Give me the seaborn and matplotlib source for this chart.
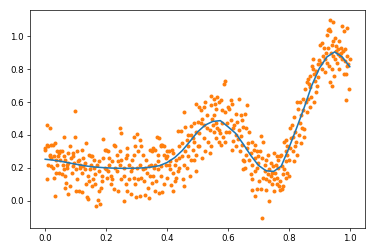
import matplotlib
matplotlib.use("Agg")
import matplotlib.pyplot as plt
import seaborn as sns
import numpy as np

# smooth fitted curve
line_x = [0.000, 0.025, 0.050, 0.075, 0.100, 0.125, 0.150, 0.175, 0.200, 0.225,
          0.250, 0.275, 0.300, 0.325, 0.350, 0.375, 0.400, 0.425, 0.450, 0.475,
          0.500, 0.525, 0.550, 0.575, 0.600, 0.625, 0.650, 0.675, 0.700, 0.725,
          0.750, 0.775, 0.800, 0.825, 0.850, 0.875, 0.900, 0.925, 0.950, 0.975, 1.000]
line_y = [0.252, 0.247, 0.240, 0.231, 0.222, 0.214, 0.207, 0.203, 0.200, 0.198,
          0.197, 0.197, 0.198, 0.200, 0.205, 0.213, 0.232, 0.262, 0.305, 0.360,
          0.418, 0.460, 0.482, 0.487, 0.450, 0.410, 0.345, 0.275, 0.215, 0.182,
          0.178, 0.210, 0.320, 0.440, 0.565, 0.700, 0.805, 0.875, 0.905, 0.875, 0.815]

pts_00 = [(0.005,0.46),(0.016,0.445),(0.0,0.32),(0.005,0.34),(0.01,0.33),(0.02,0.34),(0.025,0.34),(0.0,0.31),
          (0.015,0.27),(0.02,0.26),(0.03,0.27),(0.01,0.22),(0.02,0.21),(0.005,0.13),(0.033,0.026),(0.033,0.35),
          (0.04,0.30),(0.045,0.29),(0.035,0.25),(0.04,0.22),(0.045,0.17),(0.03,0.14),(0.025,0.20),(0.042,0.27),
          (0.05,0.30),(0.015,0.28),(0.035,0.17),(0.048,0.25),
          (0.055,0.30),(0.06,0.385),(0.06,0.27),(0.065,0.25),(0.07,0.22),(0.075,0.23),(0.07,0.20),(0.06,0.19),
          (0.055,0.16),(0.065,0.15),(0.065,0.08),(0.082,0.088),(0.076,0.04),(0.1,0.06),(0.09,0.27),(0.085,0.26),
          (0.097,0.548),(0.097,0.385),(0.08,0.33),(0.075,0.29),(0.09,0.21),(0.1,0.19),(0.095,0.23),(0.058,0.22),
          (0.068,0.11),(0.088,0.17),(0.092,0.29)]
pts_10 = [(0.105,0.30),(0.11,0.25),(0.115,0.22),(0.12,0.31),(0.125,0.26),(0.13,0.23),(0.135,0.35),(0.11,0.06),
          (0.122,0.055),(0.14,0.01),(0.145,0.28),(0.15,0.27),(0.13,0.19),(0.12,0.17),(0.14,0.15),(0.105,0.13),
          (0.115,0.2),(0.135,0.1),(0.15,0.22),(0.145,0.12),(0.125,0.21),(0.108,0.24),(0.138,0.02),(0.148,0.19),
          (0.155,0.27),(0.16,0.2),(0.165,0.1),(0.168,-0.035),(0.18,-0.02),(0.172,0.005),(0.178,0.06),(0.182,0.075),
          (0.158,0.13),(0.19,0.378),(0.19,0.26),(0.195,0.31),(0.17,0.22),(0.185,0.15),(0.175,0.18),(0.152,0.09),
          (0.16,0.25),(0.198,0.19),(0.188,0.12),(0.165,0.16),(0.178,0.24),(0.195,0.2)]
pts_20 = [(0.2,0.31),(0.205,0.3),(0.21,0.26),(0.21,0.22),(0.215,0.15),(0.22,0.13),(0.225,0.34),(0.23,0.33),
          (0.235,0.28),(0.225,0.07),(0.24,0.06),(0.245,0.22),(0.24,0.24),(0.235,0.18),(0.205,0.18),(0.215,0.1),
          (0.23,0.2),(0.245,0.3),(0.25,0.13),(0.22,0.24),(0.202,0.14),(0.248,0.25),
          (0.247,0.44),(0.25,0.41),(0.265,0.26),(0.27,0.28),(0.265,0.1),(0.27,0.06),(0.26,-0.005),(0.28,0.04),
          (0.275,0.13),(0.285,0.25),(0.29,0.39),(0.295,0.33),(0.285,0.2),(0.29,0.14),(0.298,0.02),(0.28,0.18),
          (0.258,0.2),(0.275,0.22),(0.29,0.28),(0.26,0.15),(0.3,0.2),(0.27,0.32),(0.295,0.1)]
pts_30 = [(0.302,0.405),(0.31,0.37),(0.315,0.33),(0.305,0.30),(0.32,0.28),(0.33,0.25),(0.31,0.22),(0.32,0.19),
          (0.335,0.17),(0.34,0.21),(0.345,0.31),(0.35,0.30),(0.325,0.12),(0.326,0.037),(0.342,0.016),(0.338,0.078),
          (0.315,0.14),(0.305,0.13),(0.348,0.22),(0.312,0.03),(0.328,0.2),(0.345,0.15),(0.35,0.11),
          (0.355,0.32),(0.36,0.31),(0.368,0.39),(0.37,0.28),(0.375,0.38),(0.38,0.33),(0.385,0.34),(0.39,0.33),
          (0.36,0.22),(0.37,0.19),(0.38,0.21),(0.355,0.15),(0.365,0.12),(0.375,0.047),(0.36,0.06),(0.385,0.05),
          (0.39,0.1),(0.395,0.22),(0.395,0.26),(0.37,0.24),(0.38,0.15),(0.4,0.3),(0.358,0.2),(0.39,0.28),(0.38,0.34)]
pts_40 = [(0.40,0.27),(0.405,0.3),(0.41,0.24),(0.415,0.31),(0.42,0.29),(0.425,0.22),(0.43,0.25),(0.44,0.333),
          (0.436,0.425),(0.445,0.425),(0.41,0.19),(0.42,0.17),(0.43,0.14),(0.413,0.098),(0.425,0.12),(0.44,0.2),
          (0.451,0.133),(0.405,0.22),(0.435,0.18),(0.4,0.14),(0.45,0.27),(0.418,0.06),(0.438,0.26),(0.456,0.088),
          (0.457,0.538),(0.459,0.447),(0.478,0.456),(0.465,0.37),(0.47,0.33),(0.48,0.4),(0.485,0.38),(0.49,0.36),
          (0.495,0.42),(0.46,0.3),(0.47,0.27),(0.48,0.25),(0.489,0.25),(0.495,0.28),(0.455,0.22),(0.465,0.2),
          (0.475,0.15),(0.495,0.18),(0.485,0.31),(0.45,0.35),(0.5,0.33),(0.468,0.4),(0.49,0.47)]
pts_50 = [(0.495,0.589),(0.505,0.57),(0.51,0.55),(0.52,0.57),(0.525,0.6),(0.543,0.64),(0.545,0.58),(0.515,0.5),
          (0.51,0.47),(0.52,0.46),(0.53,0.44),(0.54,0.43),(0.505,0.41),(0.52,0.38),(0.535,0.36),(0.545,0.33),
          (0.505,0.333),(0.525,0.3),(0.54,0.29),(0.53,0.52),(0.548,0.5),(0.5,0.476),(0.515,0.26),(0.55,0.46),
          (0.553,0.62),(0.558,0.59),(0.562,0.56),(0.565,0.63),(0.57,0.6),(0.576,0.61),(0.586,0.71),(0.59,0.73),
          (0.58,0.55),(0.59,0.54),(0.555,0.52),(0.56,0.47),(0.565,0.44),(0.57,0.43),(0.575,0.41),(0.58,0.47),
          (0.585,0.39),(0.595,0.42),(0.56,0.38),(0.57,0.36),(0.578,0.34),(0.59,0.36),(0.598,0.47),(0.555,0.42),(0.6,0.57)]
pts_60 = [(0.605,0.56),(0.609,0.61),(0.612,0.59),(0.625,0.53),(0.637,0.62),(0.642,0.52),(0.645,0.49),(0.631,0.48),
          (0.62,0.46),(0.615,0.44),(0.605,0.415),(0.625,0.4),(0.642,0.395),(0.632,0.375),(0.617,0.365),(0.645,0.34),
          (0.625,0.33),(0.614,0.31),(0.64,0.3),(0.65,0.45),(0.61,0.49),(0.648,0.25),(0.635,0.43),
          (0.663,0.58),(0.655,0.53),(0.67,0.415),(0.66,0.44),(0.665,0.35),(0.68,0.36),(0.685,0.31),(0.69,0.34),
          (0.695,0.3),(0.675,0.29),(0.66,0.28),(0.653,0.24),(0.67,0.25),(0.68,0.22),(0.69,0.26),(0.698,0.23),
          (0.657,0.2),(0.65,0.19),(0.675,0.16),(0.68,0.13),(0.688,0.18),(0.695,0.2),(0.662,0.32),(0.7,0.27),
          (0.69,0.026),(0.68,0.067),(0.695,0.07)]
pts_70 = [(0.707,0.395),(0.715,0.36),(0.705,0.3),(0.712,0.26),(0.72,0.22),(0.725,0.25),(0.73,0.28),(0.74,0.23),
          (0.735,0.19),(0.745,0.17),(0.72,0.18),(0.715,0.14),(0.725,0.13),(0.735,0.12),(0.745,0.1),(0.71,0.07),
          (0.724,0.067),(0.735,-0.004),(0.713,-0.106),(0.74,0.15),(0.748,0.21),(0.702,0.12),(0.73,0.16),(0.75,0.13),
          (0.752,0.29),(0.76,0.27),(0.765,0.25),(0.77,0.27),(0.775,0.28),(0.758,0.22),(0.765,0.2),(0.778,0.21),
          (0.785,0.19),(0.79,0.24),(0.755,0.17),(0.762,0.14),(0.77,0.12),(0.78,0.16),(0.789,0.14),(0.795,0.17),
          (0.768,0.09),(0.772,0.067),(0.777,0.07),(0.782,0.09),(0.76,0.1),(0.8,0.15),(0.795,0.28),(0.75,0.06),
          (0.79,0.37),(0.785,0.36),(0.795,0.33),(0.79,0.3)]
pts_80 = [(0.803,0.44),(0.81,0.46),(0.815,0.39),(0.808,0.38),(0.82,0.42),(0.805,0.32),(0.812,0.3),(0.82,0.33),
          (0.825,0.36),(0.816,0.24),(0.83,0.56),(0.828,0.6),(0.838,0.6),(0.835,0.47),(0.84,0.52),(0.845,0.62),
          (0.832,0.4),(0.842,0.44),(0.849,0.385),(0.85,0.436),(0.826,0.28),(0.84,0.35),(0.802,0.25),(0.818,0.51),
          (0.848,0.55),
          (0.853,0.68),(0.858,0.72),(0.862,0.74),(0.865,0.71),(0.87,0.76),(0.875,0.82),(0.878,0.8),(0.882,0.77),
          (0.868,0.69),(0.885,0.73),(0.892,0.7),(0.873,0.63),(0.881,0.6),(0.864,0.62),(0.89,0.79),(0.895,0.83),
          (0.898,0.855),(0.903,0.947),(0.855,0.6),(0.86,0.54),(0.87,0.57),(0.888,0.66),(0.895,0.75),(0.878,0.86)]
pts_90 = [(0.935,1.1),(0.945,1.09),(0.928,1.04),(0.932,1.045),(0.936,1.03),(0.925,1.01),(0.908,0.957),(0.915,0.93),
          (0.922,0.9),(0.93,0.93),(0.94,0.95),(0.945,0.97),(0.95,0.99),(0.938,0.9),(0.945,0.88),(0.918,0.86),
          (0.925,0.84),(0.932,0.82),(0.94,0.8),(0.91,0.8),(0.92,0.78),(0.948,0.76),(0.941,0.7),(0.935,0.72),
          (0.912,0.88),(0.905,0.84),(0.95,0.86),
          (0.974,1.06),(0.99,1.05),(0.98,1.03),(0.965,0.97),(0.955,0.94),(0.96,0.92),(0.97,0.93),(0.978,0.91),
          (0.985,0.92),(0.96,0.89),(0.968,0.88),(0.99,0.88),(0.975,0.86),(0.985,0.85),(0.995,0.83),(0.992,0.82),
          (0.98,0.77),(0.986,0.77),(0.999,0.68),(0.988,0.61),(0.958,0.84),(0.965,0.8),(1.0,0.86),(0.955,0.91),(0.97,0.9)]

all_pts = pts_00 + pts_10 + pts_20 + pts_30 + pts_40 + pts_50 + pts_60 + pts_70 + pts_80 + pts_90
pt_x = [p[0] for p in all_pts]
pt_y = [p[1] for p in all_pts]

fig = plt.figure(figsize=(6.0, 4.032), dpi=62.5)
ax = fig.add_axes([30/375, 1 - 228/252, 335/375, 218/252])

sns.scatterplot(x=pt_x, y=pt_y, color="#ff7f0e", s=21, linewidth=0, zorder=1, ax=ax)
sns.lineplot(x=line_x, y=line_y, color="#1f77b4", linewidth=1.8, zorder=2, ax=ax, sort=False)

ax.set_xticks([0.0, 0.2, 0.4, 0.6, 0.8, 1.0])
ax.set_yticks([0.0, 0.2, 0.4, 0.6, 0.8, 1.0])
ax.tick_params(labelsize=10)

fig.savefig("out.png", dpi=62.5)
